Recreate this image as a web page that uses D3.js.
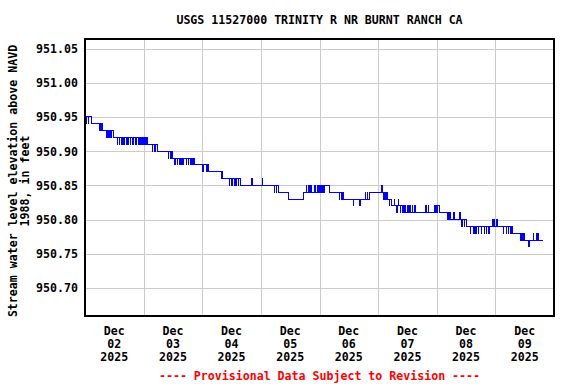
<!DOCTYPE html>
<html>
<head>
<meta charset="utf-8">
<script src="https://cdn.jsdelivr.net/npm/d3@7"></script>
<style>
  body { margin: 0; background: #fff; }
  svg { display: block; }
</style>
</head>
<body>
<div id="playground"></div>
<script>
// Gage readings: [hour of day, level in feet] at each change
var dec02 = [[0, 950.95], [0.5, 950.94], [0.75, 950.95], [1.25, 950.94], [1.5, 950.95], [2.75, 950.94],
  [5.75, 950.93], [6, 950.94], [6.5, 950.93], [6.75, 950.94], [7.25, 950.93],
  [9, 950.92], [9.25, 950.93], [9.75, 950.92], [10, 950.93], [10.5, 950.92], [10.75, 950.93], [11.5, 950.92],
  [13.25, 950.91], [13.5, 950.92], [14, 950.91], [14.25, 950.92], [15, 950.91], [15.25, 950.92],
  [15.75, 950.91], [16, 950.92], [17, 950.91], [17.25, 950.92], [17.75, 950.91], [18, 950.92],
  [18.5, 950.91], [18.75, 950.92], [19.25, 950.91], [19.75, 950.92], [20.5, 950.91], [20.75, 950.92],
  [21, 950.91], [21.25, 950.92], [21.75, 950.91], [22, 950.92], [22.5, 950.91], [22.75, 950.92],
  [23.25, 950.91], [23.5, 950.92]]
var dec03 = [[0, 950.91], [0.25, 950.92], [0.75, 950.91], [1, 950.92], [1.5, 950.91],
  [3.5, 950.90], [3.75, 950.91], [4.5, 950.90], [4.75, 950.91], [5.5, 950.90],
  [10, 950.89], [10.25, 950.90], [11, 950.89], [11.25, 950.90], [11.75, 950.89],
  [12.75, 950.88], [13, 950.89], [13.75, 950.88], [14, 950.89], [14.5, 950.88], [15, 950.89],
  [15.5, 950.88], [15.75, 950.89], [16.25, 950.88], [16.5, 950.89], [17.5, 950.88], [17.75, 950.89],
  [18.25, 950.88], [18.5, 950.89], [19, 950.88], [19.25, 950.89], [19.75, 950.88], [20, 950.89],
  [20.5, 950.88], [20.75, 950.89], [21, 950.88]]
var dec04 = [[0.25, 950.87], [0.5, 950.88], [1.75, 950.87], [2.25, 950.88], [2.5, 950.87],
  [7.75, 950.86], [8, 950.87], [8.25, 950.86],
  [11, 950.85], [11.25, 950.86], [12, 950.85], [12.25, 950.86], [13, 950.85], [13.25, 950.86],
  [13.75, 950.85], [14, 950.86], [14.75, 950.85], [15, 950.86], [15.75, 950.85],
  [20, 950.86], [20.5, 950.85]]
var dec05 = [[0.5, 950.86], [0.75, 950.85],
  [5.5, 950.84], [5.75, 950.85], [6.25, 950.84], [6.5, 950.85], [7.25, 950.84],
  [11.5, 950.83], [17.25, 950.84],
  [18.5, 950.85], [18.75, 950.84], [19.5, 950.85], [20, 950.84], [20.5, 950.85], [20.75, 950.84],
  [22, 950.85], [22.25, 950.84], [23, 950.85], [23.25, 950.84], [23.75, 950.85]]
var dec06 = [[0, 950.84], [0.5, 950.85], [0.75, 950.84], [1.25, 950.85], [1.5, 950.84],
  [1.75, 950.85], [2, 950.84], [2.25, 950.85], [4, 950.84],
  [8, 950.83], [8.25, 950.84], [9, 950.83], [9.25, 950.84], [9.75, 950.83],
  [13.75, 950.82], [14, 950.83], [16.5, 950.82], [16.75, 950.83],
  [18.75, 950.84], [19, 950.83], [19.5, 950.84], [19.75, 950.83], [20.5, 950.84]]
var dec07 = [[1.5, 950.85], [1.75, 950.84],
  [2.25, 950.83], [2.5, 950.84], [3, 950.83], [3.25, 950.84], [3.75, 950.83],
  [4.5, 950.82], [4.75, 950.83], [5.5, 950.82],
  [6.5, 950.83], [6.75, 950.82], [7.5, 950.81], [7.75, 950.82], [8.25, 950.83], [8.5, 950.82],
  [9, 950.81], [9.25, 950.82], [10, 950.81], [10.25, 950.82],
  [10.5, 950.81], [11, 950.82], [11.25, 950.81], [12, 950.82], [12.25, 950.81], [13, 950.82],
  [13.25, 950.81], [14, 950.82], [14.25, 950.81], [15, 950.82], [15.25, 950.81],
  [19.5, 950.82], [19.75, 950.81], [20.5, 950.82], [20.75, 950.81],
  [23, 950.82], [23.5, 950.81], [23.75, 950.82]]
var dec08 = [[0.25, 950.81], [0.5, 950.82], [1, 950.81],
  [4.25, 950.80], [4.5, 950.81], [5, 950.80], [5.25, 950.81], [5.75, 950.80],
  [6.75, 950.81], [7.25, 950.80], [9.25, 950.81], [9.75, 950.80],
  [10.25, 950.79], [10.5, 950.80], [11.25, 950.79], [11.5, 950.80], [12, 950.79],
  [13.75, 950.78], [14, 950.79], [15, 950.78], [15.25, 950.79], [16, 950.78], [16.25, 950.79],
  [17, 950.78], [17.25, 950.79], [18.25, 950.78], [18.5, 950.79], [19.5, 950.78], [19.75, 950.79],
  [20.25, 950.78], [20.5, 950.79], [21.25, 950.78], [21.5, 950.79],
  [23, 950.80], [23.25, 950.79], [23.5, 950.80], [23.75, 950.79]]
var dec09 = [[0.5, 950.80], [0.75, 950.79],
  [3.25, 950.78], [3.5, 950.79], [4.5, 950.78], [4.75, 950.79],
  [5.25, 950.78], [5.5, 950.79], [6.25, 950.78], [6.5, 950.79], [7, 950.78],
  [10.25, 950.77], [10.5, 950.78], [11.25, 950.77], [11.5, 950.78], [12, 950.77],
  [13.75, 950.76], [14, 950.77],
  [15.5, 950.78], [15.75, 950.77], [16.75, 950.78], [17, 950.77], [17.25, 950.78], [17.5, 950.77],
  [19.5, 950.77]]

var days = [dec02, dec03, dec04, dec05, dec06, dec07, dec08, dec09]
var dayLabels = ['02', '03', '04', '05', '06', '07', '08', '09']
var yTicks = [950.70, 950.75, 950.80, 950.85, 950.90, 950.95, 951.00, 951.05]

var title = 'USGS 11527000 TRINITY R NR BURNT RANCH CA'
var yLabel = ['Stream water level elevation above NAVD', '1988, in feet']
var footer = '---- Provisional Data Subject to Revision ----'

// --- (end of data)

var font = '"DejaVu Sans Mono", "Liberation Mono", monospace'
var fontSize = '11.6px'

var width = 576
var height = 384
var margin = {top: 39, right: 22, bottom: 68, left: 85}
var plotW = width - margin.left - margin.right
var plotH = height - margin.top - margin.bottom

var start = Date.UTC(2025, 11, 2)
var hour = 3600 * 1000

// Flatten readings into dated points
var readings = []
days.forEach(function(day, i){
  day.forEach(function(d){
    readings.push({date: new Date(start + (i * 24 + d[0]) * hour), value: d[1]})
  })
})

var x = d3.scaleUtc()
  .domain([new Date(start), new Date(start + 8 * 24 * hour)])
  .range([0, plotW])

var y = d3.scaleLinear()
  .domain([950.659, 951.064])
  .range([plotH, 0])

var svg = d3.select('#playground').append('svg')
    .attr('width', width)
    .attr('height', height)

var g = svg.append('g')
    .attr('transform', 'translate(' + margin.left + ',' + margin.top + ')')

// Horizontal grid
g.selectAll('line.h')
    .data(yTicks)
  .enter().append('line')
    .attr('class', 'h')
    .attr('x1', 0)
    .attr('x2', plotW)
    .attr('y1', function(d){ return Math.round(y(d)) + 0.5 })
    .attr('y2', function(d){ return Math.round(y(d)) + 0.5 })
    .style('stroke', '#cccccc')

// Vertical grid at each midnight
var midnights = d3.range(1, 8).map(function(i){ return new Date(start + i * 24 * hour) })
g.selectAll('line.v')
    .data(midnights)
  .enter().append('line')
    .attr('class', 'v')
    .attr('x1', function(d){ return Math.round(x(d)) + 0.5 })
    .attr('x2', function(d){ return Math.round(x(d)) + 0.5 })
    .attr('y1', 0)
    .attr('y2', plotH)
    .style('stroke', '#cccccc')

// Data line
var line = d3.line()
    .curve(d3.curveStepAfter)
    .x(function(d){ return x(d.date) })
    .y(function(d){ return y(d.value) })

g.append('path')
    .datum(readings)
    .attr('d', line)
    .attr('fill', 'none')
    .attr('stroke', '#0000ff')
    .attr('stroke-width', 1)
    .attr('shape-rendering', 'crispEdges')

// Frame
g.append('rect')
    .attr('x', 0)
    .attr('y', 0)
    .attr('width', plotW)
    .attr('height', plotH)
    .attr('fill', 'none')
    .attr('stroke', '#000')
    .attr('stroke-width', 2)

// Y tick labels
g.selectAll('text.ytick')
    .data(yTicks)
  .enter().append('text')
    .attr('class', 'ytick')
    .attr('x', -7)
    .attr('y', function(d){ return y(d) + 4.5 })
    .text(function(d){ return d3.format('.2f')(d) })
    .style('text-anchor', 'end')
    .attr('font-family', font)
    .attr('font-weight', 'bold')
    .attr('font-size', fontSize)
    .attr('fill', '#000')

// X tick labels at noon of each day
var xLab = g.selectAll('text.xtick')
    .data(dayLabels)
  .enter().append('text')
    .attr('class', 'xtick')
    .attr('transform', function(d, i){
      return 'translate(' + x(new Date(start + (i * 24 + 12) * hour)) + ',' + (plotH + 19) + ')'
    })
    .style('text-anchor', 'middle')
    .attr('font-family', font)
    .attr('font-weight', 'bold')
    .attr('font-size', fontSize)
    .attr('fill', '#000')
xLab.append('tspan').attr('x', 0).attr('y', 0).text('Dec')
xLab.append('tspan').attr('x', 0).attr('y', 13).text(function(d){ return d })
xLab.append('tspan').attr('x', 0).attr('y', 26).text('2025')

// Title
svg.append('text')
    .attr('x', margin.left + plotW / 2)
    .attr('y', 23.5)
    .text(title)
    .style('text-anchor', 'middle')
    .attr('font-family', font)
    .attr('font-weight', 'bold')
    .attr('font-size', fontSize)
    .attr('fill', '#000')

// Y axis title, two lines
svg.selectAll('text.ylabel')
    .data(yLabel)
  .enter().append('text')
    .attr('class', 'ylabel')
    .attr('transform', function(d, i){ return 'translate(' + (16.5 + i * 12.5) + ',181) rotate(-90)' })
    .text(function(d){ return d })
    .style('text-anchor', 'middle')
    .attr('font-family', font)
    .attr('font-weight', 'bold')
    .attr('font-size', fontSize)
    .attr('fill', '#000')

// Footer
svg.append('text')
    .attr('x', margin.left + plotW / 2)
    .attr('y', 379.5)
    .text(footer)
    .style('text-anchor', 'middle')
    .attr('font-family', font)
    .attr('font-weight', 'bold')
    .attr('font-size', fontSize)
    .attr('fill', '#ff0000')
</script>
</body>
</html>
